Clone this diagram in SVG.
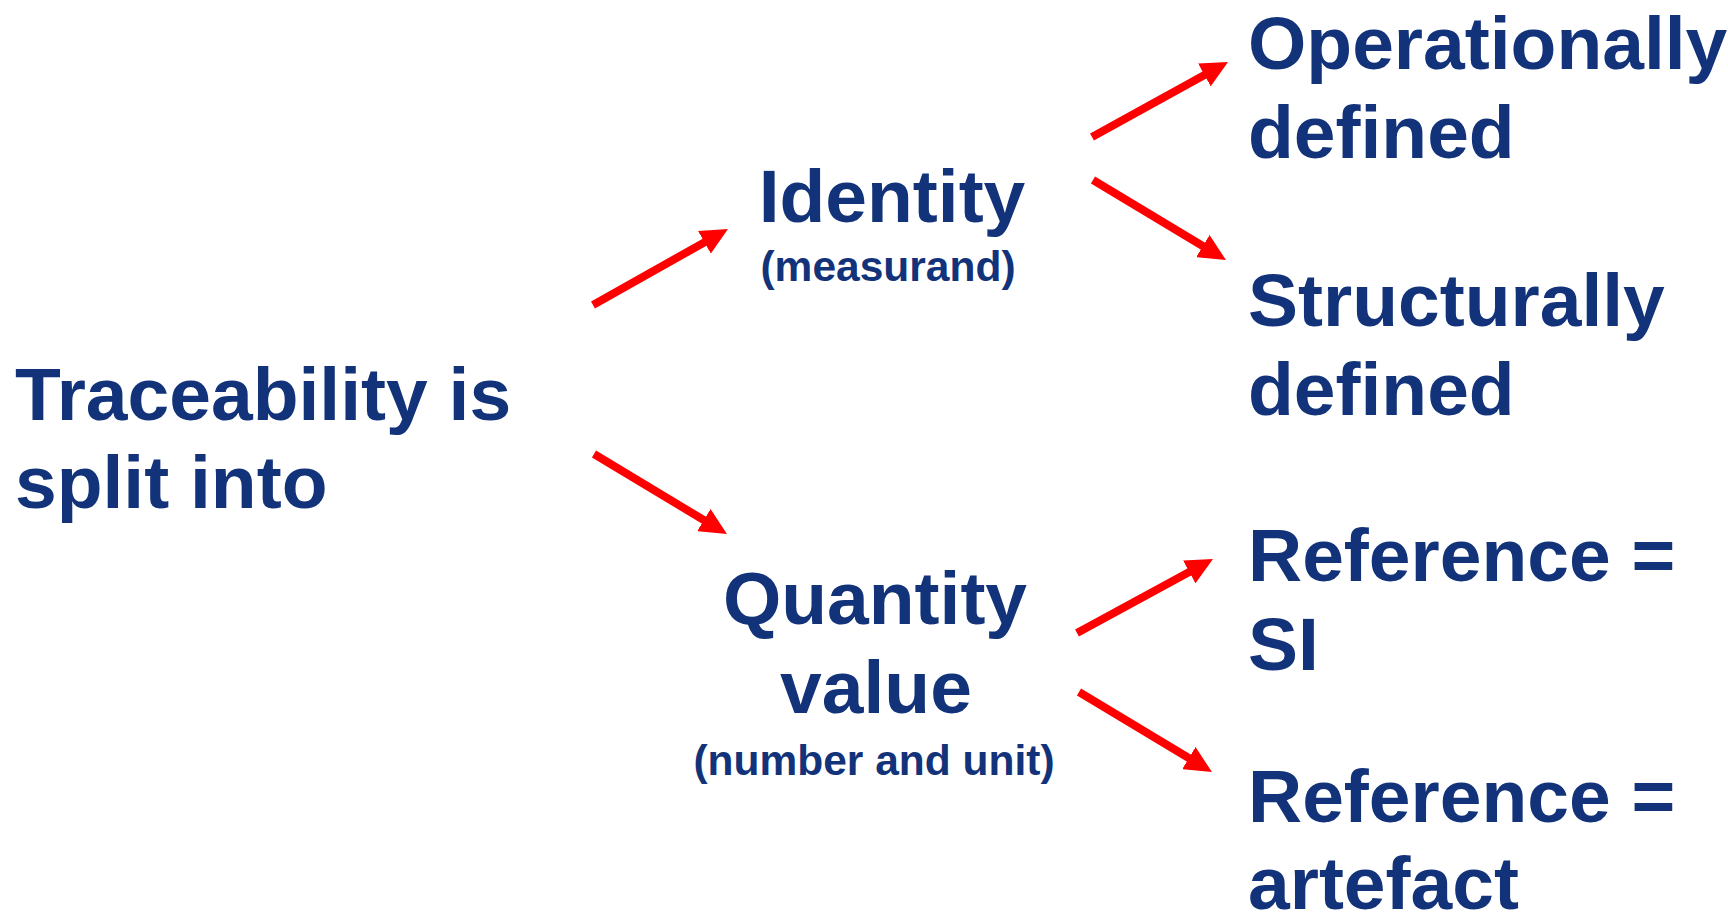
<svg xmlns="http://www.w3.org/2000/svg" width="1728" height="914" viewBox="0 0 1728 914">
<style>
text{font-family:"Liberation Sans",Arial,sans-serif;font-weight:bold;fill:#12337a}
.big{font-size:75px}
.small{font-size:42.5px}
.mid{text-anchor:middle}
.conn{stroke:#ff0000;stroke-width:8;fill:none;marker-end:url(#ah)}
</style>
<defs>
<marker id="ah" markerUnits="userSpaceOnUse" markerWidth="27" markerHeight="26" refX="12" refY="13" orient="auto">
<path d="M0,0 L27,13 L0,26 z" fill="#ff0000"/>
</marker>
</defs>
<rect width="1728" height="914" fill="#ffffff"/>
<g id="connectors">
<path class="conn" d="M593,305 L714.9,236.4"/>
<path class="conn" d="M594,454 L714.1,526.3"/>
<path class="conn" d="M1092,137 L1214.9,69.2"/>
<path class="conn" d="M1093,180 L1213.1,252.3"/>
<path class="conn" d="M1077,633 L1199.8,566.2"/>
<path class="conn" d="M1079,692 L1199.1,764.3"/>
</g>
<g id="root">
<text class="big" x="15" y="420">Traceability is</text>
<text class="big" x="15" y="508">split into</text>
</g>
<g id="identity">
<text class="big mid" x="892" y="222">Identity</text>
<text class="small mid" x="888" y="281">(measurand)</text>
</g>
<g id="quantity">
<text class="big mid" x="875" y="624">Quantity</text>
<text class="big mid" x="876" y="713">value</text>
<text class="small mid" x="874" y="775">(number and unit)</text>
</g>
<g id="operational">
<text class="big" x="1248" y="69">Operationally</text>
<text class="big" x="1248" y="158">defined</text>
</g>
<g id="structural">
<text class="big" x="1248" y="326">Structurally</text>
<text class="big" x="1248" y="415">defined</text>
</g>
<g id="ref-si">
<text class="big" x="1248" y="581">Reference =</text>
<text class="big" x="1248" y="670">SI</text>
</g>
<g id="ref-artefact">
<text class="big" x="1248" y="822">Reference =</text>
<text class="big" x="1248" y="909">artefact</text>
</g>
</svg>
